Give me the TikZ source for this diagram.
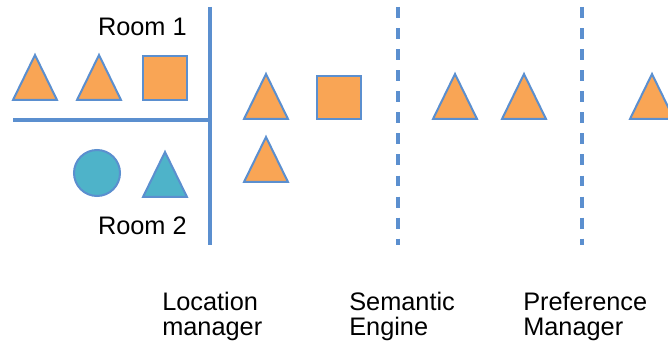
\documentclass[tikz,border=0pt]{standalone}
\usepackage{fontspec}
\setmainfont{Liberation Sans}
\usepackage{tikz}
\usetikzlibrary{positioning}
\definecolor{shapeorange}{HTML}{F9A555}
\definecolor{shapeteal}{HTML}{4EB3C9}
\definecolor{lineblue}{HTML}{5B8FCF}
\tikzset{
  orangeshape/.style={fill=shapeorange,draw=lineblue,line width=1.5pt,line join=miter},
  tealshape/.style={fill=shapeteal,draw=lineblue,line width=1.5pt},
  wall/.style={lineblue,line width=2.3pt},
  divider/.style={lineblue,line width=2.6pt,dash pattern=on 8.2pt off 7.6pt},
  label/.style={font=\fontsize{19}{18.5}\selectfont,align=left,inner sep=0pt}
}
% triangle with apex at top, #1 = centre x, #2 = top y, #3 = style
\newcommand\tri[3]{\draw[#3] (#1-22,#2+45) -- (#1,#2) -- (#1+22,#2+45) -- cycle;}
\begin{document}
\begin{tikzpicture}[x=0.75pt,y=-0.75pt]
  \useasboundingbox (0,0) rectangle (668,342);
  % rooms
  \draw[wall] (210,7) -- (210,245);
  \draw[wall] (13,120) -- (210,120);
  \node[label,anchor=base east] (room1) at (187,36) {Room 1};
  \node[label,anchor=base east] (room2) at (187,235) {Room 2};
  \tri{35}{55}{orangeshape}
  \tri{99}{55}{orangeshape}
  \draw[orangeshape] (143,56) rectangle (187,100);
  \draw[tealshape] (97,173) circle (23);
  \tri{165}{152}{tealshape}
  % location manager
  \tri{266}{74}{orangeshape}
  \draw[orangeshape] (317,76) rectangle (361,119);
  \tri{266}{137}{orangeshape}
  \draw[divider] (398,7) -- (398,245);
  % semantic engine
  \tri{455}{74}{orangeshape}
  \tri{524}{74}{orangeshape}
  \draw[divider] (582,7) -- (582,245);
  % preference manager
  \tri{652}{74}{orangeshape}
  % labels (base = last line)
  \node[label,anchor=base west] (locman) at (162,335) {Location\\manager};
  \node[label,anchor=base west] (semeng) at (349,335) {Semantic\\Engine};
  \node[label,anchor=base west] (prefman) at (523,335) {Preference\\Manager};
\end{tikzpicture}
\end{document}
